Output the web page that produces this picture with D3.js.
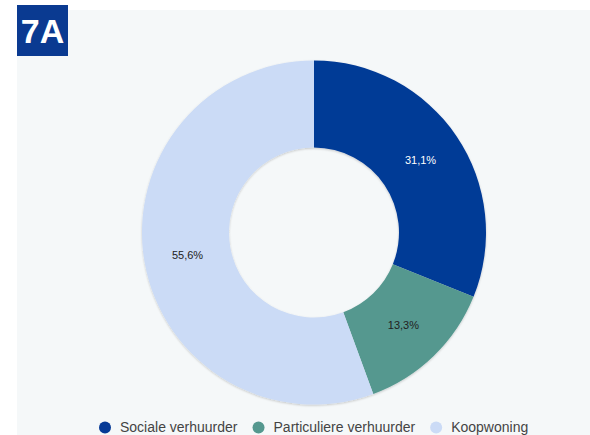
<!DOCTYPE html>
<html><head><meta charset="utf-8">
<script src="https://cdn.jsdelivr.net/npm/d3@7"></script>
<style>html,body{margin:0;padding:0;background:#fff;}svg{display:block;}</style>
</head><body>
<svg id="c" width="590" height="435"></svg>
<script>
const categories = ["Sociale verhuurder", "Particuliere verhuurder", "Koopwoning"];
const values = [31.1, 13.3, 55.6];
const colors = ["#063a96", "#55988f", "#cbdbf6"];
const labelColors = ["#ffffff", "#222222", "#222222"];
const badge = "7A";

const svg = d3.select("#c");
svg.append("rect").attr("x", 17).attr("y", 10).attr("width", 573).attr("height", 425).attr("fill", "#f5f8f9");

const defs = svg.append("defs");
const f = defs.append("filter").attr("id", "sh").attr("x", "-10%").attr("y", "-10%").attr("width", "120%").attr("height", "120%");
f.append("feDropShadow").attr("dx", 0).attr("dy", 1).attr("stdDeviation", 0.8).attr("flood-color", "#000").attr("flood-opacity", 0.2);

const cx = 314, cy = 232.5, R = 172, r = 85;
const pie = d3.pie().sort(null).value(d => d);
const arc = d3.arc().innerRadius(r).outerRadius(R);
const arcs = pie(values);
const g = svg.append("g").attr("transform", `translate(${cx},${cy})`);
g.append("g").attr("filter", "url(#sh)").selectAll("path").data(arcs).join("path")
  .attr("d", arc).attr("fill", (d, i) => colors[i]);
g.selectAll("text").data(arcs).join("text")
  .attr("transform", d => `translate(${arc.centroid(d)})`)
  .attr("text-anchor", "middle").attr("dy", "0.35em")
  .attr("font-family", "Arial, 'Liberation Sans', sans-serif").attr("font-size", 11)
  .attr("fill", (d, i) => labelColors[i])
  .text(d => d3.format(".1f")(d.data).replace(".", ",") + "%");

// badge
svg.append("rect").attr("x", 17).attr("y", 5).attr("width", 51).attr("height", 51).attr("fill", "#0a3a91");
svg.append("text").attr("x", 42.5).attr("y", 43).attr("text-anchor", "middle")
  .attr("font-family", "Arial, 'Liberation Sans', sans-serif").attr("font-weight", "bold")
  .attr("font-size", 34).attr("fill", "#fff").text(badge);

// legend
const lg = svg.append("g");
let x = 105;
const ly = 427.5;
categories.forEach((c, i) => {
  lg.append("circle").attr("cx", x).attr("cy", ly).attr("r", 6).attr("fill", colors[i]);
  const t = lg.append("text").attr("x", x + 15).attr("y", ly).attr("dy", "0.35em")
    .attr("font-family", "Arial, 'Liberation Sans', sans-serif").attr("font-size", 14)
    .attr("fill", "#444").text(c);
  x = x + 15 + t.node().getComputedTextLength() + 21;
});
</script>
</body></html>
